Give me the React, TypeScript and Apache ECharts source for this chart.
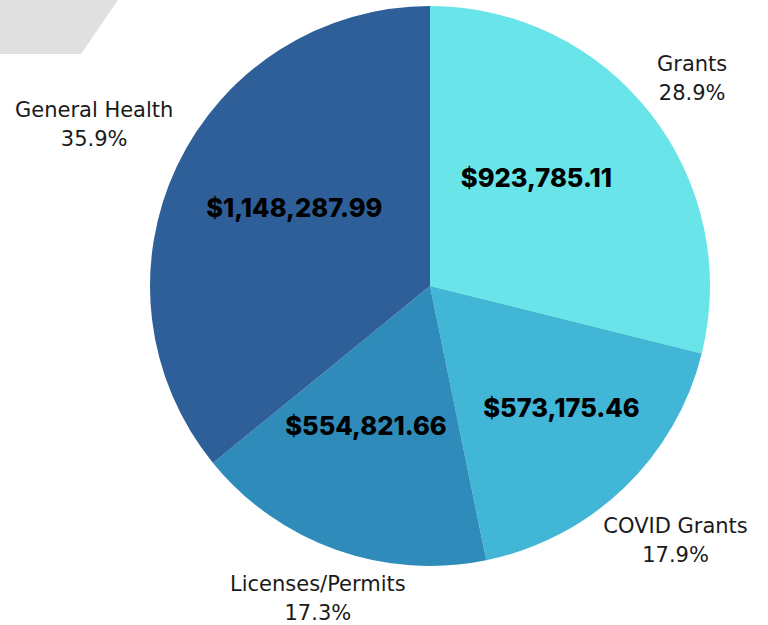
import React, { useEffect, useRef } from "react";
import * as echarts from "echarts";

const categories = ["Grants", "COVID Grants", "Licenses/Permits", "General Health"];
const values = [923785.11, 573175.46, 554821.66, 1148287.99];
const colors = ["#69e4e8", "#42b6d6", "#2e8bba", "#2e5f98"];
// label fine-tuning offsets (px)
const valueLabelOffsets = [[-18, -11], [22, 8], [-11, -9], [7, -11]];
const nameLabelOffsets = [[-8, 4], [8, 7], [3, -11], [-26, -14]];

const CENTER = [430, 286];
const RADIUS = 280;

const fmtMoney = (v: number) =>
  "$" + v.toLocaleString("en-US", { minimumFractionDigits: 2, maximumFractionDigits: 2 });

export default function App() {
  const ref = useRef<HTMLDivElement>(null);
  useEffect(() => {
    if (!ref.current) return;
    const chart = echarts.init(ref.current, undefined, { renderer: "svg" });
    const baseData = categories.map((name, i) => ({ name, value: values[i] }));
    chart.setOption({
      animation: false,
      backgroundColor: "#ffffff",
      graphic: [
        {
          type: "polygon",
          shape: { points: [[0, 0], [118, 0], [81, 54], [0, 54]] },
          style: { fill: "#e0e0e0" },
          silent: true,
        },
      ],
      series: [
        {
          type: "pie",
          center: CENTER,
          radius: RADIUS,
          startAngle: 90,
          clockwise: true,
          silent: true,
          label: { show: false },
          labelLine: { show: false },
          itemStyle: { borderWidth: 0 },
          data: baseData.map((d, i) => ({ ...d, itemStyle: { color: colors[i] } })),
        },
        {
          type: "pie",
          center: CENTER,
          radius: [0, 310],
          startAngle: 90,
          clockwise: true,
          silent: true,
          itemStyle: { color: "rgba(0,0,0,0)", borderWidth: 0 },
          labelLine: { show: false },
          label: {
            show: true,
            position: "inside",
            formatter: (p: any) => fmtMoney(p.value),
            fontFamily: "Inter, 'Noto Sans', sans-serif",
            fontWeight: 800,
            fontSize: 25.5,
            color: "#000000",
          },
          data: baseData.map((d, i) => ({ ...d, label: { offset: valueLabelOffsets[i] } })),
        },
        {
          type: "pie",
          center: CENTER,
          radius: [280, 400],
          startAngle: 90,
          clockwise: true,
          silent: true,
          percentPrecision: 1,
          itemStyle: { color: "rgba(0,0,0,0)", borderWidth: 0 },
          labelLine: { show: false },
          label: {
            show: true,
            position: "inside",
            formatter: "{b}\n{d}%",
            fontFamily: "'DejaVu Sans', sans-serif",
            fontWeight: 400,
            fontSize: 21,
            lineHeight: 29,
            align: "center",
            color: "#1a1a1a",
          },
          data: baseData.map((d, i) => ({ ...d, label: { offset: nameLabelOffsets[i] } })),
        },
      ],
    });
    return () => chart.dispose();
  }, []);
  return (
    <div
      ref={ref}
      style={{ position: "absolute", left: 0, top: 0, width: 768, height: 625 }}
    />
  );
}
